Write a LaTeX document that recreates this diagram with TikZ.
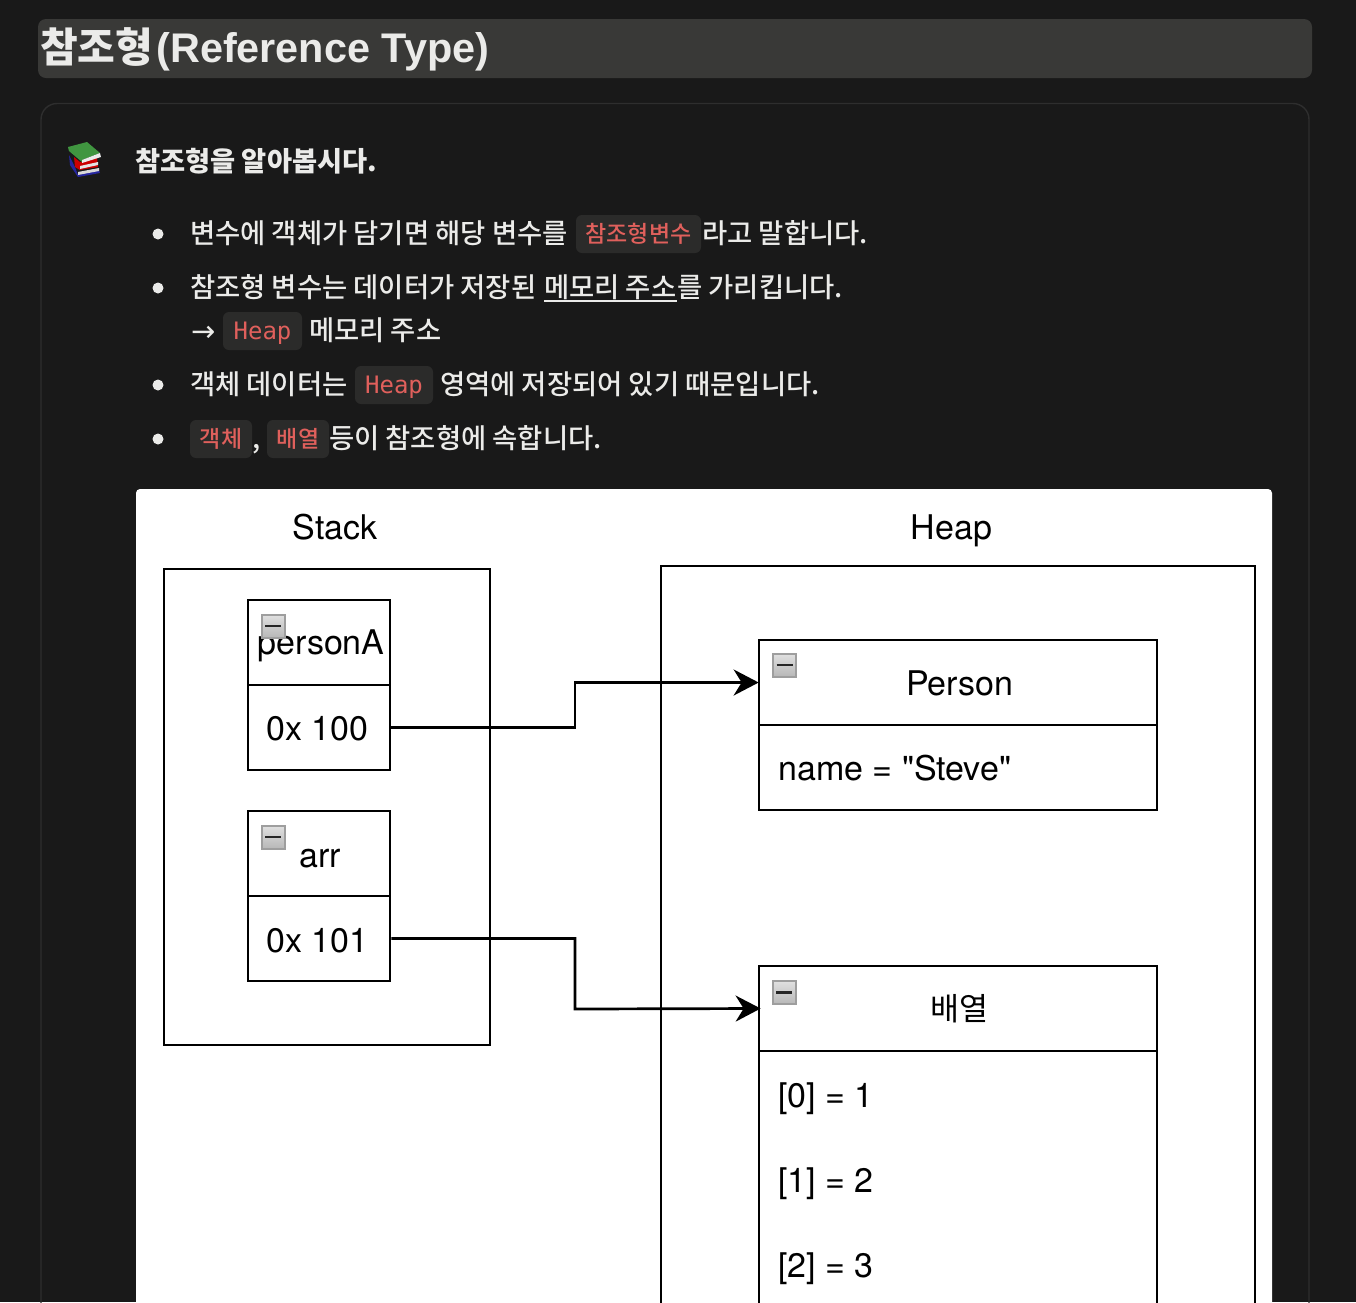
\documentclass[tikz,border=0pt]{standalone}
\usepackage{fontspec}
\setmainfont{Liberation Sans}
\newfontfamily\kr{Noto Sans CJK KR Medium}
\newfontfamily\krlight{Noto Sans CJK KR}
\newfontfamily\symfont{DejaVu Sans}
\newfontfamily\codefont{DejaVu Sans Mono}
\newfontfamily\labelfont{TeX Gyre Heros}
\usetikzlibrary{arrows.meta}
\definecolor{pagebg}{HTML}{191919}
\definecolor{titlebg}{HTML}{393937}
\definecolor{cardline}{HTML}{2E2E2E}
\definecolor{bodytext}{HTML}{EBEBE9}
\definecolor{pillbg}{HTML}{2B2B2A}
\definecolor{codered}{HTML}{E0605C}
\begin{document}
\begin{tikzpicture}[
    x=1pt, y=-1pt,
    bodyline/.style={anchor=base west, inner sep=0pt, text=bodytext, font=\kr\fontsize{27.4}{32}\selectfont},
    bulletdot/.style={circle, fill=bodytext, inner sep=0pt, minimum size=11pt},
    codepill/.style={fill=pillbg, rounded corners=6pt, minimum height=38pt, inner sep=0pt, text=codered, text height=20pt, text depth=3pt},
    codekr/.style={codepill, font=\kr\fontsize{23}{28}\selectfont},
    codemono/.style={codepill, font=\codefont\fontsize{24}{28}\selectfont},
    cellbox/.style={draw=black, line width=2.7pt, inner sep=0pt},
    celltext/.style={anchor=base west, inner sep=0pt, text=black, font=\labelfont\fontsize{34}{40}\selectfont},
    minusicon/.style={draw=black!38, line width=2pt, top color=black!12, bottom color=black!28, minimum size=23pt, inner sep=0pt,
        path picture={\draw[black!85, line width=2.8pt] ([xshift=-8pt]path picture bounding box.center) -- ([xshift=8pt]path picture bounding box.center);}},
    link/.style={-{Stealth[length=25pt, width=26pt, inset=8pt]}, black, line width=2.7pt}
]
    \useasboundingbox (0,0) rectangle (1356,1302);
    \clip (0,0) rectangle (1356,1302);
    \fill[pagebg] (0,0) rectangle (1356,1302);

    % page header and card
    \node[fill=titlebg, rounded corners=8pt, minimum width=1274pt, minimum height=59pt, inner sep=0pt] (titlebar) at (675,48.5) {};
    \node[anchor=base west, inner sep=0pt, text=bodytext, font=\bfseries\fontsize{41.4}{48}\selectfont] (title) at (40,62) {{\kr\fontsize{41}{48}\selectfont\bfseries 참조형}\hspace{3pt}(Reference Type)};
    \draw[cardline, line width=1.4pt, rounded corners=16pt] (41,1400) -- (41,103.5) -- (1309,103.5) -- (1309,1400);

    % books
    \fill[blue!55!black!85] (69,155) -- (75,167) -- (78,175) -- (99,170) -- (100,173) -- (78,177) -- (70,165) -- cycle;
    \fill[black!15] (78,172) -- (99,168) -- (99,171) -- (78,175) -- cycle;
    \fill[red!80!black] (74,157) -- (80,162) -- (97,158) -- (98,167) -- (80,170) -- (75,167) -- cycle;
    \fill[black!10] (80,166) -- (98,162) -- (98,165) -- (80,169) -- cycle;
    \fill[green!45!black!75!white] (68,147) -- (87,142) -- (100,153) -- (82,160) -- (82,162) -- (69,151) -- cycle;
    \fill[black!8] (82,160) -- (100,153) -- (101,157) -- (82,163) -- cycle;

    % text block
    \node[bodyline, font=\kr\bfseries\fontsize{27.3}{32}\selectfont] (heading) at (135,171) {참조형을 알아봅시다.};

    \node[bulletdot] (dotA) at (158,234) {};
    \node[bodyline] (lineA) at (190,243.5) {변수에 객체가 담기면 해당 변수를};
    \node[codekr, minimum width=125pt] (pillA) at (638.5,234) {참조형변수};
    \node[bodyline] (lineAend) at (702,243.5) {라고 말합니다.};

    \node[bulletdot] (dotB) at (158,288) {};
    \node[bodyline] (lineB) at (190,297.5) {참조형 변수는 데이터가 저장된};
    \node[bodyline] (lineBmark) at (544,297.5) {메모리 주소};
    \node[bodyline] (lineBend) at (677,297.5) {를 가리킵니다.};
    \draw[bodytext, line width=1.3pt] (lineBmark.base west |- 0,301) -- (lineBmark.base east |- 0,301);
    \node[bodyline, font=\symfont\fontsize{29}{32}\selectfont] (arrowmark) at (191,341) {→};
    \node[codemono, minimum width=79pt] (pillB) at (262.5,331) {Heap};
    \node[bodyline] (lineC) at (309,340.5) {메모리 주소};

    \node[bulletdot] (dotC) at (158,385) {};
    \node[bodyline] (lineD) at (190,394.5) {객체 데이터는};
    \node[codemono, minimum width=78pt] (pillC) at (394,385) {Heap};
    \node[bodyline] (lineDend) at (440,394.5) {영역에 저장되어 있기 때문입니다.};

    \node[bulletdot] (dotD) at (158,439) {};
    \node[codekr, minimum width=62pt] (pillD) at (221,439) {객체};
    \node[bodyline] (comma) at (252,448.5) {,};
    \node[codekr, minimum width=62pt] (pillE) at (298,439) {배열};
    \node[bodyline] (lineE) at (329,448.5) {등이 참조형에 속합니다.};

    % memory figure
    \node[fill=white, rounded corners=4pt, minimum width=1136pt, minimum height=900pt, inner sep=0pt] (figure) at (704,939) {};
    \node[celltext] (stacklabel) at (292.5,539) {Stack};
    \node[celltext] (heaplabel) at (910.5,539) {Heap};

    \node[cellbox, minimum width=326pt, minimum height=476pt] (stack) at (327,807) {};
    \node[cellbox, minimum width=594pt, minimum height=834pt] (heap) at (958,983) {};

    \node[cellbox, minimum width=142pt, minimum height=85pt] (personhead) at (319,642.5) {};
    \node[cellbox, minimum width=142pt, minimum height=85pt] (personaddr) at (319,727.5) {};
    \node[cellbox, minimum width=142pt, minimum height=85pt] (arrhead) at (319,853.5) {};
    \node[cellbox, minimum width=142pt, minimum height=85pt] (arraddr) at (319,938.5) {};

    \node[cellbox, minimum width=398pt, minimum height=85pt] (objhead) at (958,682.5) {};
    \node[cellbox, minimum width=398pt, minimum height=85pt] (objbody) at (958,767.5) {};
    \node[cellbox, minimum width=398pt, minimum height=85pt] (listhead) at (958,1008.5) {};
    \node[cellbox, minimum width=398pt, minimum height=349pt] (listbody) at (958,1225.5) {};

    \node[celltext] (personname) at (257.5,654) {personA};
    \node[celltext] (personvalue) at (266,740) {0x 100};
    \node[celltext] (arrname) at (299.5,867) {arr};
    \node[celltext] (arrvalue) at (266,952) {0x 101};
    \node[celltext] (objname) at (906,695) {Person};
    \node[celltext] (objfield) at (778,780) {name = "Steve"};
    \node[celltext, font=\krlight\fontsize{31.5}{36}\selectfont] (listname) at (930,1020) {배열};
    \node[celltext] (itemA) at (778,1107) {[0] = 1};
    \node[celltext] (itemB) at (778,1192) {[1] = 2};
    \node[celltext] (itemC) at (778,1277) {[2] = 3};

    \node[minusicon] (iconA) at (273,626) {};
    \node[minusicon] (iconB) at (273,837) {};
    \node[minusicon] (iconC) at (784.5,665) {};
    \node[minusicon] (iconD) at (784,992.5) {};

    \coordinate (bendA) at (575,682.5);
    \coordinate (bendB) at (575,1009);
    \draw[link, shorten >=-1pt] (personaddr.east) -| (bendA) -- (objhead.west);
    \draw[link, shorten >=-3pt] (arraddr.east) -| (bendB) -- (listhead.west);
\end{tikzpicture}
\end{document}
